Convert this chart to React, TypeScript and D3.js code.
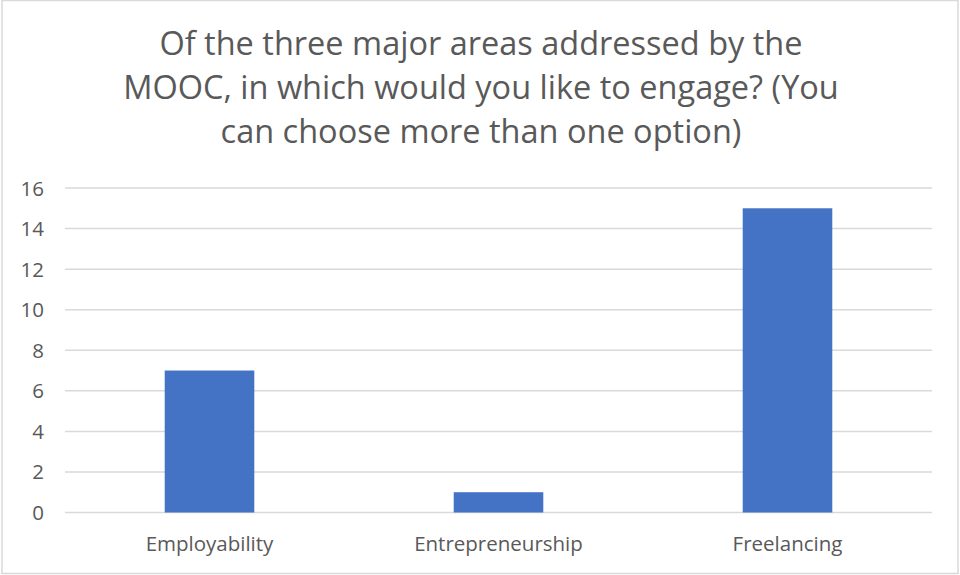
import React from "react";
import * as d3 from "d3";

const categories = ["Employability", "Entrepreneurship", "Freelancing"];
const values = [7, 1, 15];
const yTicks = [0, 2, 4, 6, 8, 10, 12, 14, 16];
const titleLines = [
  "Of the three major areas addressed by the",
  "MOOC, in which would you like to engage? (You",
  "can choose more than one option)",
];

const W = 960;
const H = 575;
const FONT = "'Open Sans', 'Noto Sans', sans-serif";

export default function App() {
  const x = d3.scaleBand<string>().domain(categories).range([65, 932]).paddingInner(0.69).paddingOuter(0.345);
  const y = d3.scaleLinear().domain([0, 16]).range([512.5, 188]);
  return (
    <svg width={W} height={H} style={{ position: "absolute", left: 0, top: 0 }}>
      <rect x={0} y={0} width={W} height={H} fill="#fff" />
      <rect x={2} y={0.5} width={W - 4} height={H - 2} fill="none" stroke="#d9d9d9" strokeWidth={1.5} />
      {titleLines.map((t, i) => (
        <text key={i} x={481} y={55 + i * 44} textAnchor="middle" fontFamily={FONT} fontSize={32.5} fill="#595959">
          {t}
        </text>
      ))}
      {yTicks.map((t) => (
        <g key={t}>
          <line x1={65} x2={932} y1={y(t)} y2={y(t)} stroke="#d9d9d9" strokeWidth={1.5} />
          <text x={44} y={y(t) + 7.5} textAnchor="end" fontFamily={FONT} fontSize={20.5} fill="#595959">
            {t}
          </text>
        </g>
      ))}
      {categories.map((c, i) => (
        <rect key={c} x={x(c)} y={y(values[i])} width={x.bandwidth()} height={y(0) - y(values[i])} fill="#4472c4" />
      ))}
      {categories.map((c) => (
        <text key={c} x={(x(c) as number) + x.bandwidth() / 2} y={551} textAnchor="middle" fontFamily={FONT} fontSize={20.5} fill="#595959">
          {c}
        </text>
      ))}
    </svg>
  );
}
